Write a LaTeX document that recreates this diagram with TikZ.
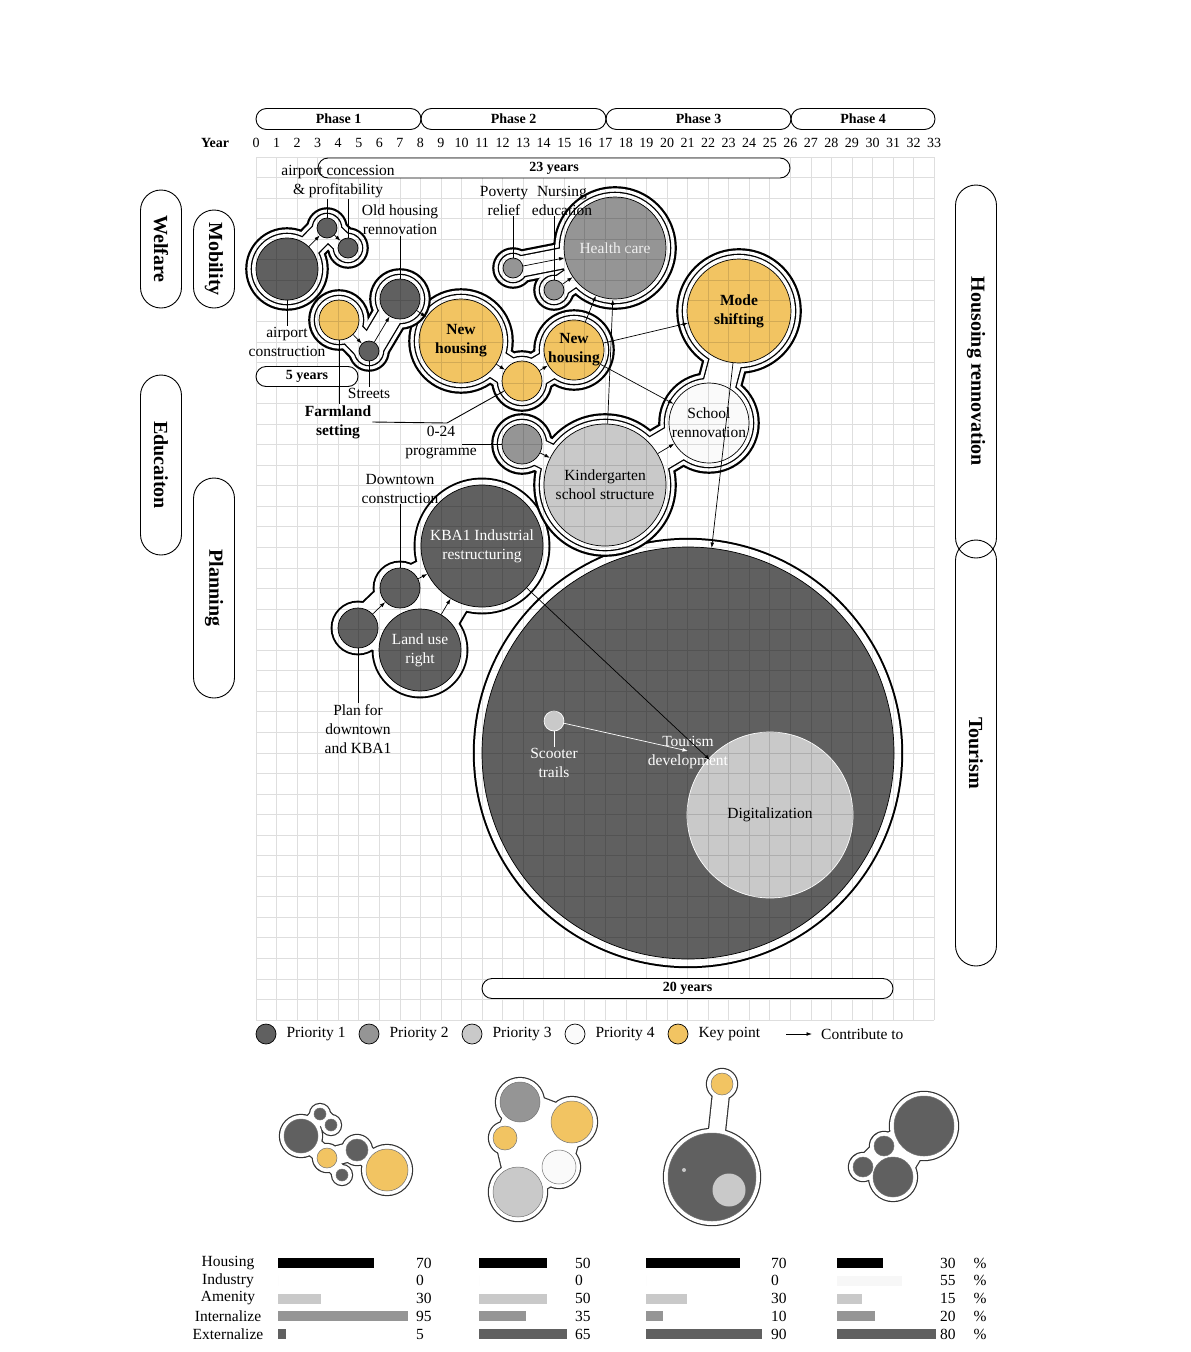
\documentclass[tikz,border=0pt]{standalone}
\usepackage{fontspec}
\setmainfont{Liberation Serif}
\usepackage{xcolor}
\usepackage{tikz}
\usetikzlibrary{arrows.meta,positioning,shapes.misc,backgrounds}
\definecolor{prioA}{HTML}{606060}
\definecolor{prioB}{HTML}{959595}
\definecolor{prioC}{HTML}{C9C9C9}
\definecolor{prioD}{HTML}{FAFAFA}
\definecolor{keypt}{HTML}{F2C462}
\colorlet{bar1}{black}
\colorlet{bar2}{black!3}
\colorlet{bar3}{prioC}
\colorlet{bar4}{prioB}
\colorlet{bar5}{prioA}
\newcommand\lblfont{\fontsize{15.5}{19}\selectfont}
\newcommand\yrfont{\fontsize{14}{16}\selectfont}
\newcommand\tagfont{\fontsize{20}{22}\selectfont\bfseries}
% layered outline round a group of bubbles: rings, bubbles (name/radius), necks (from/to/halfwidth), patches (a/b/c)
\newcommand\blob[4]{%
  \foreach \off/\tone in #1{%
    \foreach \nd/\rd in {#2}{\fill[fill=\tone] (\nd.center) circle[radius=\rd+\off];}
    \foreach \ea/\eb/\ew in {#3}{\draw[draw=\tone, line width={2*(\ew+\off)}] (\ea.center) -- (\eb.center);}
    \foreach \ta/\tb/\tc in {#4}{\filldraw[fill=\tone, draw=\tone, line width=1.5pt, line join=round] (\ta.center) -- (\tb.center) -- (\tc.center) -- cycle;}
  }}
\newcommand\ringtwo{10.8/black,8.6/white,5.3/black,4/white}
\newcommand\ringone{7.4/black,5.5/white}
\newcommand\ringbig{9.2/black,7.2/white}
\newcommand\ringmini{5.2/black!80,4/white}
\tikzset{
  bub/base/.style={circle, draw=black, line width=0.7pt, inner sep=0pt, minimum size={2*#1}},
  bub/p1/.style={bub/base=#1, fill=prioA},
  bub/p2/.style={bub/base=#1, fill=prioB},
  bub/p3/.style={bub/base=#1, fill=prioC},
  bub/p4/.style={bub/base=#1, fill=prioD},
  bub/key/.style={bub/base=#1, fill=keypt},
  bub/mini/.style={line width=0.5pt, draw=black!55},
  intext/.style={align=center, inner sep=0pt, font=\lblfont},
  intext/dark/.style={intext, text=white},
  intext/key/.style={intext, font=\lblfont\bfseries},
  txt/.style={align=center, inner sep=1pt, font=\lblfont},
  lgtxt/.style={inner sep=2pt, font=\lblfont},
  yr/.style={inner sep=0pt, font=\yrfont},
  phase/.style={draw, rounded rectangle, line width=0.9pt, minimum height=21pt, inner sep=0pt, font=\yrfont\bfseries},
  span/.style={draw, rounded rectangle, line width=0.9pt, fill=white, minimum height=20pt, inner sep=0pt, font=\yrfont\bfseries},
  tag/.style={draw, rounded rectangle, rotate=-90, line width=0.9pt, minimum height=41pt, inner sep=0pt, font=\tagfont},
  gridline/.style={black, opacity=0.13, line width=0.7pt},
  lead/.style={line width=0.9pt},
  arr/.style={-{Latex[length=5.5pt,width=3.8pt]}, line width=0.7pt}
}

\begin{document}
\begin{tikzpicture}[x=1pt, y=-1pt]
  \useasboundingbox (0,0) rectangle (1191,1352);

  % bubbles
  \node[bub/p1=31] (a1) at (287,269) {};
  \node[bub/p1=10] (a2) at (327,228) {};
  \node[bub/p1=10] (a3) at (348,248) {};
  \node[bub/key=20] (b1) at (339,320) {};
  \node[bub/p1=10] (b2) at (369,351) {};
  \node[bub/p1=20] (b3) at (400,299) {};
  \node[bub/key=42, label={[intext/key]center:New\\housing}] (c1) at (461,341) {};
  \node[bub/key=20] (c2) at (522,381) {};
  \node[bub/key=30, label={[intext/key]center:New\\housing}] (c3) at (574,350) {};
  \node[bub/p2=10] (d1) at (513,268) {};
  \node[bub/p2=10] (d2) at (554,290) {};
  \node[bub/p2=51, label={[intext, text=black!6]center:Health care}] (d3) at (615,248) {};
  \node[bub/key=52, label={[intext/key]center:Mode\\shifting}] (e1) at (739,311) {};
  \node[bub/p4=40, label={[intext]center:School\\rennovation}] (e2) at (709,423) {};
  \node[bub/p2=20] (f1) at (522,444) {};
  \node[bub/p3=61, label={[intext]center:Kindergarten\\school structure}] (f2) at (605,485) {};
  \node[bub/p1=20] (g1) at (358,628) {};
  \node[bub/p1=20] (g2) at (400,588) {};
  \node[bub/p1=41, label={[intext/dark]center:Land use\\right}] (g3) at (420,650) {};
  \node[bub/p1=61, label={[intext/dark]center:KBA1 Industrial\\restructuring}] (g4) at (482,546) {};
  \node[bub/p1=206] (h1) at (688,753) {};
  \node[bub/p3=83, draw=white, label={[intext]center:Digitalization}] (h2) at (770,815) {};
  \node[bub/p3=10, draw=white] (h3) at (554,721) {};
  \node[intext/dark] (ltour) at (688,752.5) {Tourism\\development};

  % phase summaries
  \node[bub/p1=17, bub/mini] (m1a) at (301,1136) {};
  \node[bub/p1=6, bub/mini] (m1b) at (320,1114) {};
  \node[bub/p1=6, bub/mini] (m1c) at (331,1125) {};
  \node[bub/key=10, bub/mini] (m1d) at (327,1158) {};
  \node[bub/p1=11, bub/mini] (m1e) at (357,1150) {};
  \node[bub/p1=6, bub/mini] (m1f) at (342,1175) {};
  \node[bub/key=21, bub/mini] (m1g) at (387,1170) {};
  \node[bub/p2=20, bub/mini] (m2a) at (520,1102) {};
  \node[bub/key=21, bub/mini] (m2b) at (572,1122) {};
  \node[bub/key=12, bub/mini] (m2c) at (505,1138) {};
  \node[bub/p4=17, bub/mini] (m2d) at (559,1167) {};
  \node[bub/p3=25, bub/mini] (m2e) at (518,1192) {};
  \node[bub/key=11, bub/mini] (m3a) at (722,1084) {};
  \node[bub/p1=44, bub/mini] (m3b) at (712,1177) {};
  \node[bub/p3=16.5, draw=none] (m3c) at (729,1190) {};
  \node[bub/p3=2, draw=none] (m3d) at (684,1170) {};
  \node[bub/p1=30, bub/mini] (m4a) at (924,1126) {};
  \node[bub/p1=10, bub/mini] (m4b) at (884,1146) {};
  \node[bub/p1=10, bub/mini] (m4c) at (863,1167) {};
  \node[bub/p1=20, bub/mini] (m4d) at (893,1177) {};

  \begin{pgfonlayer}{background}
    \fill[white] (0,0) rectangle (1191,1352);
    \blob\ringbig{h1/206}{h1/h1/0}{h1/h1/h1}
    \blob\ringone{g1/20,g2/20,g3/41,g4/61}{g1/g2/9,g1/g3/10,g2/g4/10,g3/g4/14}{g2/g3/g4}
    \blob\ringtwo{e1/52,e2/40,f2/61,f1/20}{e1/e2/12,e2/f2/14,f2/f1/9}{f1/f1/f1}
    \blob\ringtwo{d1/10,d2/10,d3/51}{d1/d3/6,d2/d3/6}{d1/d1/d1}
    \blob\ringtwo{c1/42,c2/20,c3/30}{c1/c2/10,c2/c3/10}{c1/c1/c1}
    \blob\ringtwo{b1/20,b2/10,b3/20}{b1/b2/8,b2/b3/8}{b1/b1/b1}
    \blob\ringtwo{a1/31,a2/10,a3/10}{a1/a2/7,a2/a3/6}{a1/a1/a1}
    \blob\ringmini{m1a/17,m1b/6,m1c/6,m1d/10,m1e/11,m1f/6,m1g/21}{m1a/m1b/4,m1b/m1c/4,m1a/m1d/5,m1d/m1e/5,m1e/m1g/6,m1d/m1f/3}{m1a/m1a/m1a}
    \blob\ringmini{m2a/20,m2b/21,m2c/12,m2d/17,m2e/25}{m2a/m2b/8,m2b/m2d/8,m2d/m2e/8,m2e/m2c/6,m2c/m2a/6}{m2a/m2b/m2d,m2a/m2d/m2e,m2a/m2e/m2c}
    \blob\ringmini{m3a/11,m3b/44}{m3a/m3b/4}{m3a/m3a/m3a}
    \blob\ringmini{m4a/30,m4b/10,m4c/10,m4d/20}{m4a/m4b/6,m4a/m4d/10,m4b/m4c/5,m4c/m4d/6}{m4a/m4b/m4d,m4b/m4c/m4d}
  \end{pgfonlayer}

  \draw[gridline] \foreach \i in {0,...,33}{(256+20.55*\i,157) -- (256+20.55*\i,1020)}
                  \foreach \j in {0,...,42}{(256,1020-20.55*\j) -- (934.15,1020-20.55*\j)};

  % time line
  \node[phase, minimum width=165] (ph1) at (338.5,119) {Phase 1};
  \node[phase, minimum width=185] (ph2) at (513.5,119) {Phase 2};
  \node[phase, minimum width=185] (ph3) at (698.5,119) {Phase 3};
  \node[phase, minimum width=144] (ph4) at (863,119) {Phase 4};
  \node[yr, font=\yrfont\bfseries] (yearlbl) at (215,143) {Year};
  \foreach \i in {0,...,33} \node[yr] (yr\i) at (256+20.55*\i,143) {\i};
  \node[span, minimum width=472] (s23) at (554,168) {23 years};
  \node[span, minimum width=102] (s5) at (307,376.5) {5 years};
  \node[span, minimum width=411] (s20) at (687.5,988.5) {20 years};

  \node[tag, minimum width=118] (welf) at (161,249) {Welfare};
  \node[tag, minimum width=98] (mob) at (214,259) {Mobility};
  \node[tag, minimum width=180] (edu) at (161,465) {Educaiton};
  \node[tag, minimum width=220] (plan) at (214,588) {Planning};
  \node[tag, minimum width=373] (hous) at (976,371.5) {Housoing rennovation};
  \node[tag, minimum width=426] (tour) at (976,753) {Tourism};

  % labels
  \node[txt] (lconc) at (338,181.5) {airport concession\\\& profitability};
  \node[txt] (lold) at (400,219.5) {Old housing\\rennovation};
  \node[txt] (lair) at (287,341.5) {airport\\construction};
  \node[txt, font=\lblfont\bfseries] (lfarm) at (338,422) {Farmland\\setting};
  \node[txt] (lstr) at (369,393) {Streets};
  \node[txt] (lpov) at (504,200.5) {Poverty\\relief};
  \node[txt] (lnur) at (562,200.5) {Nursing\\education};
  \node[txt] (l024) at (441,442.5) {0-24\\programme};
  \node[txt] (ldown) at (400,488.5) {Downtown\\construction};
  \node[txt] (lplan) at (358,729) {Plan for\\downtown\\and KBA1};
  \node[txt, text=white] (lsco) at (554,762.5) {Scooter\\trails};

  \draw[lead] (a1) -- (a1 |- lair.north);
  \draw[lead] (a2) -- (a2 |- lconc.south);
  \draw[lead] (a3) -- (a3 |- lconc.south);
  \draw[lead] (b3) -- (b3 |- lold.south);
  \draw[lead] (b1) -- (b1 |- lfarm.north);
  \draw[lead] (b2) -- (b2 |- lstr.north);
  \coordinate (kfarm) at (447,423);
  \draw[lead] (lfarm.east) -- (kfarm) -- (c2);
  \coordinate (k024) at (462,444);
  \draw[lead] (k024) -- (f1);
  \draw[lead] (d1) -- (d1 |- lpov.south);
  \draw[lead] (d2) -- (d2 |- lnur.south);
  \draw[lead] (g1) -- (g1 |- lplan.north);
  \draw[lead] (g2) -- (g2 |- ldown.south);
  \draw[lead, white] (h3) -- (h3 |- lsco.north);

  % contributions
  \draw[arr] (a1) -- (a2);
  \draw[arr] (a2) -- (a3);
  \draw[arr] (b1) -- (b2);
  \draw[arr] (b2) -- (b3);
  \draw[arr] (b3) -- (c1);
  \draw[arr] (c1) -- (c2);
  \draw[arr] (c2) -- (c3);
  \draw[arr] (d1) -- (d3);
  \draw[arr] (d2) -- (d3);
  \draw[arr] (c3) -- (d3);
  \draw[arr] (c3) -- (e1);
  \draw[arr] (c3) -- (e2);
  \draw[arr] (f1) -- (f2);
  \draw[arr] (f2) -- (e2);
  \draw[arr] (f2) -- (d3);
  \draw[arr] (e1) -- (h1);
  \draw[arr] (g1) -- (g2);
  \draw[arr] (g2) -- (g4);
  \draw[arr] (g3) -- (g4);
  \coordinate (tdevK) at (710,760);
  \coordinate (tdevS) at (688,751);
  \draw[arr] (g4) -- (tdevK);
  \draw[arr, white] (h3) -- (tdevS);

  % legend
  \node[bub/p1=10] (lg1) at (266,1034) {};
  \node[lgtxt, right=8pt of lg1] (lgt1) {Priority 1};
  \node[bub/p2=10] (lg2) at (369,1034) {};
  \node[lgtxt, right=8pt of lg2] (lgt2) {Priority 2};
  \node[bub/p3=10] (lg3) at (472,1034) {};
  \node[lgtxt, right=8pt of lg3] (lgt3) {Priority 3};
  \node[bub/p4=10] (lg4) at (575,1034) {};
  \node[lgtxt, right=8pt of lg4] (lgt4) {Priority 4};
  \node[bub/key=10] (lg5) at (678,1034) {};
  \node[lgtxt, right=8pt of lg5] (lgt5) {Key point};
  \coordinate (lgA) at (786,1034);
  \coordinate (lgB) at (812,1034);
  \draw[arr] (lgA) -- (lgB);
  \node[lgtxt, anchor=west] (lgt6) at (819,1034) {Contribute to};

  % programme shares (value/bar length)
  \foreach \lab [count=\rw] in {Housing,Industry,Amenity,Internalize,Externalize}{
    \node[txt] (row\rw) at (228,1245.25+17.75*\rw) {\lab};
    \node[txt] (pct\rw) at (980,1245.25+17.75*\rw) {\%};
  }
  \foreach \cl/\bx/\nx/\vals in {1/278/415/{70/96,0/0,30/43,95/130,5/8},
                                 2/479/574/{50/68,0/0,50/68,35/47,65/88},
                                 3/646/770/{70/94,0/0,30/41,10/17,90/116},
                                 4/837/939/{30/46,55/65,15/25,20/38,80/99}}{
    \foreach \v/\len [count=\rw] in \vals {
      \fill[fill=bar\rw] (\bx,1240.25+17.75*\rw) rectangle ++(\len,10);
      \node[txt, anchor=west] (num\cl\rw) at (\nx,1245.25+17.75*\rw) {\v};
    }
  }
\end{tikzpicture}
\end{document}
